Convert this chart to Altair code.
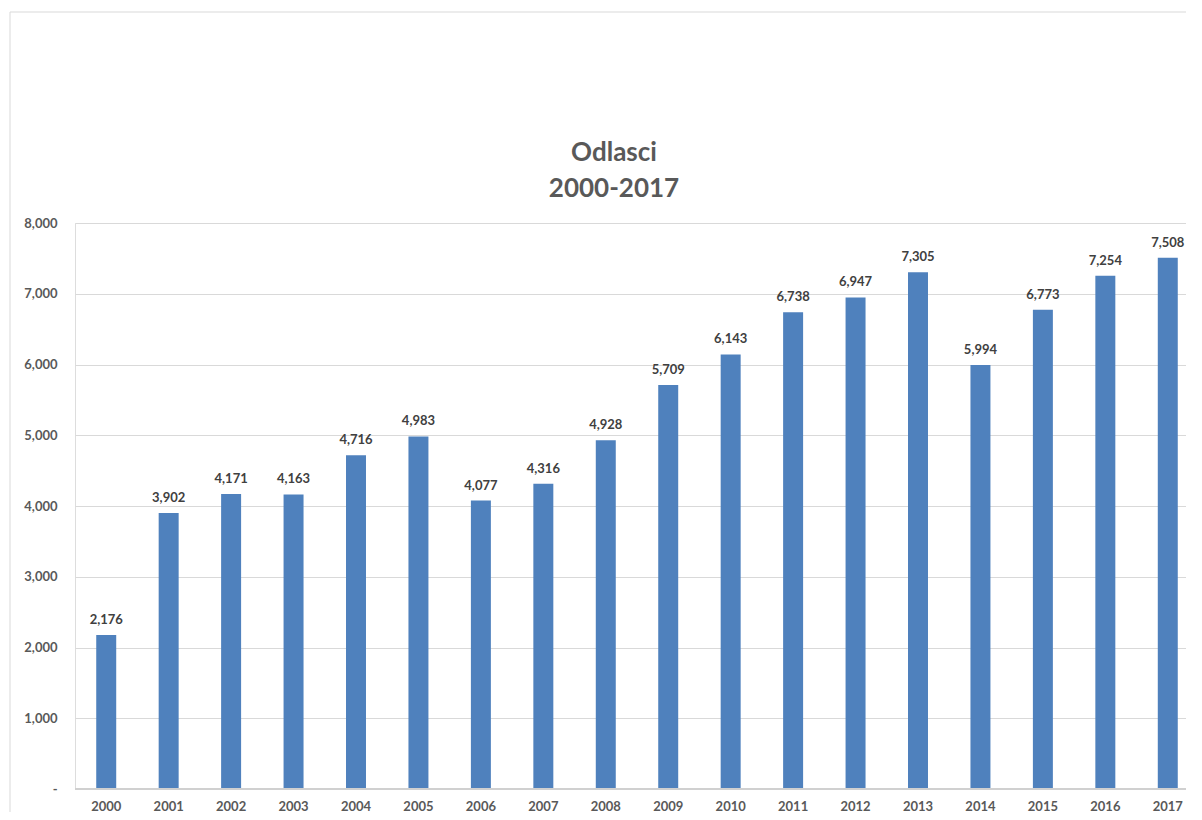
import altair as alt
import pandas as pd

years = [str(y) for y in range(2000, 2018)]
values = [2176, 3902, 4171, 4163, 4716, 4983, 4077, 4316, 4928, 5709,
          6143, 6738, 6947, 7305, 5994, 6773, 7254, 7508]
title_lines = ["Odlasci", "2000-2017"]

df = pd.DataFrame({"year": years, "value": values})

FONT = "Lato"
GRAY = "#595959"

xscale = alt.Scale(range=[0, 1124], paddingInner=0.68, paddingOuter=0.34)
yscale = alt.Scale(domain=[0, 8000], nice=False)

base = alt.Chart(df)

frame = base.mark_rect(fill=None, stroke="#d9d9d9", strokeWidth=1).encode(
    x=alt.value(-65), x2=alt.value(1300), y=alt.value(-211), y2=alt.value(900)
).transform_filter("datum.year == '2000'")

bars = base.mark_bar(color="#4F81BD").encode(
    x=alt.X("year:N", scale=xscale, sort=years,
            axis=alt.Axis(title=None, labelAngle=0, ticks=False, domain=False,
                          labelPadding=11, labelFont=FONT, labelFontSize=13,
                          labelFontWeight="bold", labelColor=GRAY)),
    y=alt.Y("value:Q", scale=yscale,
            axis=alt.Axis(title=None, values=list(range(0, 8001, 1000)),
                          labelExpr="datum.value == 0 ? '-' : format(datum.value, ',')",
                          ticks=False, domain=False, labelPadding=18,
                          labelFont=FONT, labelFontSize=13, labelFontWeight="bold",
                          labelColor=GRAY, grid=True, gridColor="#d9d9d9",
                          gridWidth=1)),
)

labels = base.mark_text(baseline="bottom", dy=-8, font=FONT, fontSize=13,
                        fontWeight="bold", color="#404040").encode(
    x=alt.X("year:N", scale=xscale, sort=years),
    y=alt.Y("value:Q", scale=yscale),
    text=alt.Text("value:Q", format=","),
)

baseline = base.mark_rule(color="#d0d0d0", strokeWidth=2).encode(
    y=alt.datum(0), x=alt.value(0), x2=alt.value(1111)
).transform_filter("datum.year == '2000'")

title_df = pd.DataFrame({"t": title_lines})
title1 = alt.Chart(title_df).mark_text(
    font=FONT, fontSize=26, fontWeight="bold", color=GRAY,
    align="center", baseline="middle").encode(
    text="t:N", x=alt.value(539), y=alt.value(-70)
).transform_filter(f"datum.t == '{title_lines[0]}'")
title2 = alt.Chart(title_df).mark_text(
    font=FONT, fontSize=26, fontWeight="bold", color=GRAY,
    align="center", baseline="middle").encode(
    text="t:N", x=alt.value(539), y=alt.value(-34)
).transform_filter(f"datum.t == '{title_lines[1]}'")

chart = alt.layer(frame, bars, baseline, labels, title1, title2).properties(
    width=1111,
    height=566,
    autosize=alt.AutoSizeParams(type="none"),
    padding={"left": 67, "top": 215, "right": 0, "bottom": 23},
).configure_view(stroke=None).configure(background="white")

chart.save("out.html", embed_options={"renderer": "svg", "actions": False})
